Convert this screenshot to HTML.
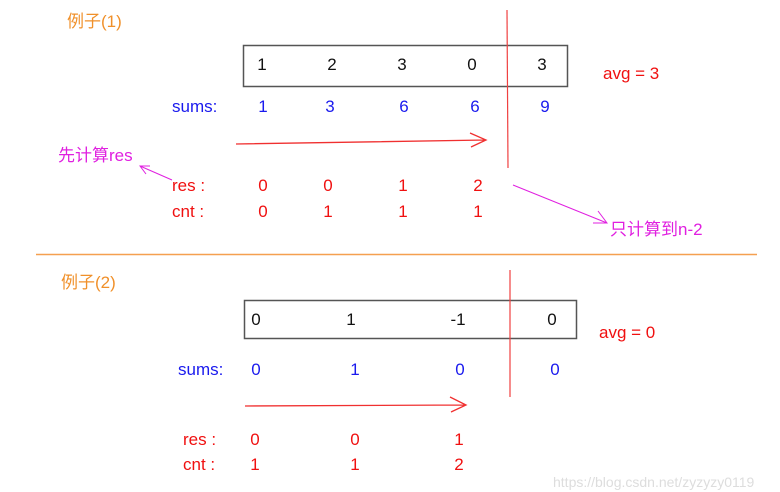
<!DOCTYPE html>
<html><head><meta charset="utf-8"><style>
body{margin:0;width:780px;height:485px;background:#fff;overflow:hidden;position:relative;font-family:"Liberation Sans","Noto Sans CJK SC",sans-serif}
.t{position:absolute;font-size:17px;line-height:20px;white-space:nowrap}
.c{transform:translateX(-50%)}
.o{color:#f0902a}.k{color:#111}.b{color:#1a1aee}.r{color:#f01010}.m{color:#e020e0}
</style></head><body>
<svg width="780" height="485" style="position:absolute;left:0;top:0">
<rect x="243.5" y="45.5" width="324" height="41" fill="none" stroke="#555" stroke-width="1.5"/>
<rect x="244.5" y="300.5" width="332" height="38" fill="none" stroke="#555" stroke-width="1.5"/>
<line x1="507" y1="10" x2="508" y2="168" stroke="#f04040" stroke-width="1.2"/>
<line x1="510" y1="270" x2="510" y2="397" stroke="#f04040" stroke-width="1.2"/>
<path d="M236 144 L486 140 M470 133 L486 140 L471 147" fill="none" stroke="#f03030" stroke-width="1.3"/>
<path d="M245 406 L465 405 M450 397 L466 405 L451 412" fill="none" stroke="#f03030" stroke-width="1.3"/>
<path d="M172 180 L140 166 M150 166 L140 166 L146 174" fill="none" stroke="#e020e0" stroke-width="1"/>
<path d="M513 185 L607 223 M598 211 L607 223 L593 223" fill="none" stroke="#e020e0" stroke-width="1"/>
<line x1="36" y1="254.5" x2="757" y2="254.5" stroke="#f5a050" stroke-width="1.5"/>
</svg>
<div class="t o" style="left:67px;top:12px">例子(1)</div>
<div class="t k c" style="left:262px;top:55px">1</div>
<div class="t k c" style="left:332px;top:55px">2</div>
<div class="t k c" style="left:402px;top:55px">3</div>
<div class="t k c" style="left:472px;top:55px">0</div>
<div class="t k c" style="left:542px;top:55px">3</div>
<div class="t r" style="left:603px;top:64px">avg = 3</div>
<div class="t b" style="left:172px;top:97px">sums:</div>
<div class="t b c" style="left:263px;top:97px">1</div>
<div class="t b c" style="left:330px;top:97px">3</div>
<div class="t b c" style="left:404px;top:97px">6</div>
<div class="t b c" style="left:475px;top:97px">6</div>
<div class="t b c" style="left:545px;top:97px">9</div>
<div class="t m" style="left:58px;top:146px">先计算res</div>
<div class="t r" style="left:172px;top:176px">res :</div>
<div class="t r c" style="left:263px;top:176px">0</div>
<div class="t r c" style="left:328px;top:176px">0</div>
<div class="t r c" style="left:403px;top:176px">1</div>
<div class="t r c" style="left:478px;top:176px">2</div>
<div class="t r" style="left:172px;top:202px">cnt :</div>
<div class="t r c" style="left:263px;top:202px">0</div>
<div class="t r c" style="left:328px;top:202px">1</div>
<div class="t r c" style="left:403px;top:202px">1</div>
<div class="t r c" style="left:478px;top:202px">1</div>
<div class="t m" style="left:610px;top:220px">只计算到n-2</div>
<div class="t o" style="left:61px;top:273px">例子(2)</div>
<div class="t k c" style="left:256px;top:310px">0</div>
<div class="t k c" style="left:351px;top:310px">1</div>
<div class="t k c" style="left:458px;top:310px">-1</div>
<div class="t k c" style="left:552px;top:310px">0</div>
<div class="t r" style="left:599px;top:323px">avg = 0</div>
<div class="t b" style="left:178px;top:360px">sums:</div>
<div class="t b c" style="left:256px;top:360px">0</div>
<div class="t b c" style="left:355px;top:360px">1</div>
<div class="t b c" style="left:460px;top:360px">0</div>
<div class="t b c" style="left:555px;top:360px">0</div>
<div class="t r" style="left:183px;top:430px">res :</div>
<div class="t r c" style="left:255px;top:430px">0</div>
<div class="t r c" style="left:355px;top:430px">0</div>
<div class="t r c" style="left:459px;top:430px">1</div>
<div class="t r" style="left:183px;top:455px">cnt :</div>
<div class="t r c" style="left:255px;top:455px">1</div>
<div class="t r c" style="left:355px;top:455px">1</div>
<div class="t r c" style="left:459px;top:455px">2</div>
<div class="t" style="left:553px;top:472px;color:#ddd;font-size:14px">https://blog.csdn.net/zyzyzy0119</div>
</body></html>
